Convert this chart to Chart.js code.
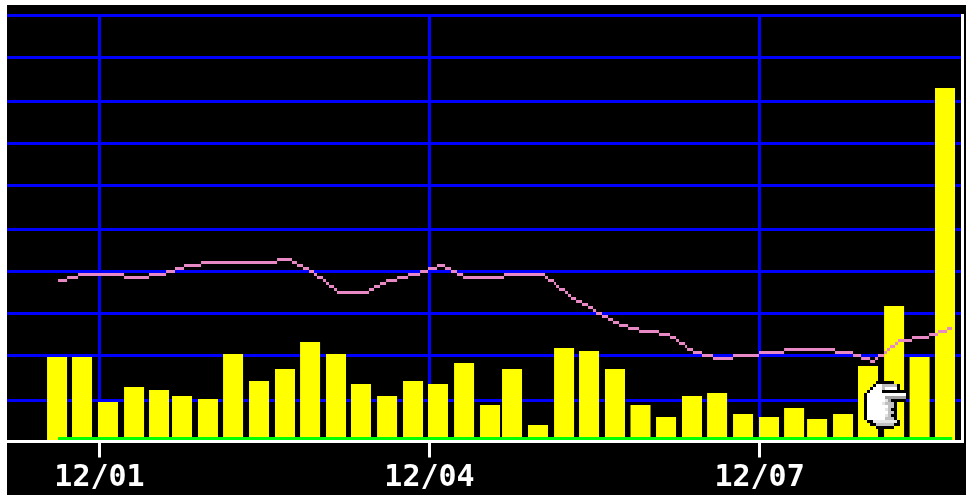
<!DOCTYPE html>
<html>
<head>
<meta charset="utf-8">
<style>
html, body { margin: 0; padding: 0; background: #fff; width: 966px; height: 495px; overflow: hidden; }
#chart { position: absolute; left: 7px; top: 5px; background: #000; }
</style>
<script src="https://cdn.jsdelivr.net/npm/chart.js@4/dist/chart.umd.min.js"></script>
</head>
<body>
<canvas id="chart" width="959" height="490"></canvas>
<script>
// x values are days of the month, so 4 is 12/04
const xTickValues = [1, 4, 7];
const xTickLabels = ["12/01", "12/04", "12/07"];
const yGridValues = [0.93, 1.99, 2.98, 3.97, 4.95, 5.99, 6.98, 7.96, 9, 10];

const barDays = [0.614, 0.841, 1.077, 1.314, 1.541, 1.75, 1.986, 2.214, 2.45, 2.686, 2.914, 3.15,
	3.377, 3.614, 3.85, 4.077, 4.314, 4.55, 4.75, 4.986, 5.223, 5.45, 5.686, 5.918,
	6.15, 6.386, 6.614, 6.85, 7.086, 7.314, 7.523, 7.759, 7.986, 8.223, 8.455, 8.686];
const barValues = [1.953, 1.953, 0.894, 1.247, 1.176, 1.035, 0.965, 2.024, 1.388, 1.671, 2.306, 2.024,
	1.318, 1.035, 1.388, 1.318, 1.812, 0.824, 1.671, 0.353, 2.165, 2.094, 1.671, 0.824,
	0.541, 1.035, 1.106, 0.612, 0.541, 0.753, 0.494, 0.612, 1.741, 3.153, 1.953, 8.282];

// the line is a low-res staircase: each value holds from its day until the next one
const lineDays = [0.623, 0.705, 0.805, 1.223, 1.45, 1.605, 1.686, 1.768, 1.923, 2.614, 2.75, 2.795,
	2.85, 2.905, 2.95, 2.977, 3.032, 3.059, 3.086, 3.132, 3.159, 3.45, 3.495, 3.55,
	3.605, 3.705, 3.805, 3.914, 3.986, 4.068, 4.141, 4.195, 4.25, 4.305, 4.677, 5.05,
	5.077, 5.132, 5.15, 5.177, 5.232, 5.259, 5.286, 5.332, 5.386, 5.441, 5.486, 5.514,
	5.568, 5.623, 5.668, 5.723, 5.805, 5.905, 6.086, 6.186, 6.241, 6.268, 6.323, 6.341,
	6.395, 6.477, 6.577, 6.759, 6.995, 7.223, 7.686, 7.85, 7.923, 8.005, 8.05, 8.077,
	8.132, 8.159, 8.186, 8.232, 8.259, 8.386, 8.541, 8.623, 8.705, 8.75];
const lineValues = [3.753, 3.824, 3.894, 3.824, 3.894, 3.965, 4.035, 4.106, 4.176, 4.247, 4.176, 4.106,
	4.035, 3.965, 3.894, 3.824, 3.753, 3.682, 3.612, 3.541, 3.471, 3.541, 3.612, 3.682,
	3.753, 3.824, 3.894, 3.965, 4.035, 4.106, 4.035, 3.965, 3.894, 3.824, 3.894, 3.824,
	3.753, 3.682, 3.612, 3.541, 3.471, 3.4, 3.329, 3.259, 3.188, 3.118, 3.047, 2.976,
	2.906, 2.835, 2.765, 2.694, 2.624, 2.553, 2.482, 2.412, 2.341, 2.271, 2.2, 2.129,
	2.059, 1.988, 1.918, 1.988, 2.059, 2.129, 2.059, 1.988, 1.918, 1.847, 1.918, 1.988,
	2.059, 2.129, 2.2, 2.271, 2.341, 2.412, 2.482, 2.553, 2.624, 2.624];

const baseDays = [0.623, 8.75];
const baseValues = [0.035, 0.035];

// the mouse pointer caught in the screenshot, 3px per cell
const handRows = [
	"....KKKKKK....",
	"...KWWGGGGGK..",
	"..KWWWGWWWWK..",
	".KWWWWKKKKKKKK",
	"KWWWWWWWWWWWWW",
	"KWWWWWWDDDDDDD",
	"KWWWWWWLDKKKKK",
	"KWWWWWLGGGK...",
	"KWWWWWWWGGK...",
	"KWWWWWWLGKK...",
	"KWWWWWWWGGK...",
	"KWWWWWWLGKK...",
	"KWWWWWWGGGK...",
	".KKLLLLLLLLK..",
	"..KKGGGGGGKK..",
	"....KKKKKK...."
];
const handColors = { K: "#000000", W: "#ffffff", L: "#e4e4e4", G: "#c0c0c0", D: "#a0a0a0" };

const handCursor = {
	id: 'handCursor',
	afterDatasetsDraw(chart) {
		const ctx = chart.ctx;
		handRows.forEach(function (row, r) {
			for (var c = 0; c < row.length; c++) {
				if (row[c] === ".") continue;
				ctx.fillStyle = handColors[row[c]];
				ctx.fillRect(857 + c * 3, 376 + r * 3, 3, 3);
			}
		});
	}
};

function toPoints(xs, ys) {
	return xs.map(function (x, i) { return { x: x, y: ys[i] }; });
}

// separate flat runs with gaps, so that steps only touch at their corners
function toRuns(xs, ys) {
	var points = [];
	for (var i = 0; i < xs.length - 1; i++) {
		points.push({ x: xs[i], y: ys[i] });
		points.push({ x: xs[i + 1], y: ys[i] });
		points.push({ x: xs[i + 1], y: null });
	}
	return points;
}

new Chart(document.getElementById('chart'), {
	type: 'bar',
	data: {
		datasets: [{
			type: 'line',
			data: toPoints(baseDays, baseValues),
			borderColor: "#00ff00",
			borderWidth: 3,
			pointRadius: 0
		},
		{
			type: 'line',
			data: toRuns(lineDays, lineValues),
			borderColor: "#e888c4",
			borderWidth: 3,
			pointRadius: 0,
			spanGaps: false
		},
		{
			data: toPoints(barDays, barValues),
			backgroundColor: "#ffff00",
			borderWidth: 0,
			inflateAmount: 0,
			barThickness: 20
		}]
	},
	plugins: [handCursor],
	options: {
		responsive: false,
		animation: false,
		layout: { padding: { left: 0, right: 3.5, top: 10, bottom: 0 } },
		plugins: { legend: { display: false }, tooltip: { enabled: false } },
		scales: {
			x: {
				type: 'linear',
				offset: false,
				min: 0.159,
				max: 8.845,
				afterBuildTicks: function (scale) {
					scale.ticks = xTickValues.map(function (v) { return { value: v }; });
				},
				afterFit: function (scale) { scale.height = 53.5; },
				grid: { offset: false, color: "#0000ff", lineWidth: 3, tickColor: "#ffffff", tickWidth: 3, tickLength: 16 },
				border: { color: "#ffffff", width: 3 },
				ticks: {
					autoSkip: false,
					maxRotation: 0,
					padding: 3,
					color: "#ffffff",
					font: { family: "'DejaVu Sans Mono'", size: 30, weight: 'bold' },
					callback: function (v) { return xTickLabels[xTickValues.indexOf(v)]; }
				}
			},
			y: {
				position: 'right',
				min: -0.035,
				max: 10,
				afterBuildTicks: function (scale) {
					scale.ticks = yGridValues.map(function (v) { return { value: v }; });
				},
				afterFit: function (scale) { scale.width = 0; },
				grid: { color: "#0000ff", lineWidth: 3, drawTicks: false },
				border: { color: "#ffffff", width: 3 },
				ticks: { display: false }
			}
		}
	}
});
</script>
</body>
</html>
